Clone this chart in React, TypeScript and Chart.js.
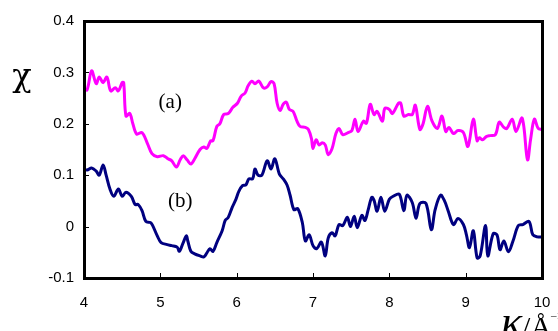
import { useEffect, useRef } from "react";
import { Chart, registerables } from "chart.js";

Chart.register(...registerables);

// Series (a): k (Å^-1) and chi
const kA = [4.0, 4.04, 4.1, 4.16, 4.2, 4.25, 4.3, 4.35, 4.41, 4.45, 4.5, 4.52, 4.55, 4.6, 4.64, 4.69, 4.76, 4.83, 4.89, 4.96, 5.04, 5.1, 5.15, 5.21, 5.26, 5.3, 5.35, 5.4, 5.45, 5.52, 5.57, 5.61, 5.66, 5.69, 5.74, 5.78, 5.83, 5.89, 5.95, 6.01, 6.06, 6.11, 6.15, 6.2, 6.24, 6.29, 6.35, 6.4, 6.45, 6.49, 6.53, 6.57, 6.61, 6.65, 6.69, 6.74, 6.79, 6.83, 6.9, 6.94, 6.98, 7.0, 7.04, 7.08, 7.12, 7.16, 7.2, 7.25, 7.3, 7.34, 7.39, 7.46, 7.51, 7.55, 7.59, 7.66, 7.7, 7.75, 7.8, 7.84, 7.91, 7.94, 8.0, 8.04, 8.12, 8.15, 8.19, 8.25, 8.3, 8.34, 8.4, 8.44, 8.5, 8.56, 8.63, 8.69, 8.74, 8.78, 8.84, 8.9, 8.97, 9.03, 9.1, 9.15, 9.18, 9.22, 9.27, 9.32, 9.39, 9.44, 9.5, 9.54, 9.61, 9.66, 9.74, 9.81, 9.85, 9.9, 9.95, 10.0];
const chiA = [0.268, 0.266, 0.303, 0.278, 0.291, 0.28, 0.291, 0.264, 0.27, 0.264, 0.28, 0.28, 0.215, 0.22, 0.2, 0.18, 0.183, 0.162, 0.142, 0.136, 0.138, 0.132, 0.128, 0.116, 0.13, 0.138, 0.13, 0.122, 0.132, 0.15, 0.155, 0.152, 0.167, 0.167, 0.195, 0.2, 0.218, 0.22, 0.232, 0.24, 0.254, 0.26, 0.274, 0.283, 0.278, 0.283, 0.27, 0.272, 0.282, 0.278, 0.24, 0.226, 0.238, 0.242, 0.228, 0.224, 0.205, 0.195, 0.193, 0.189, 0.171, 0.152, 0.169, 0.159, 0.163, 0.159, 0.14, 0.152, 0.181, 0.191, 0.179, 0.183, 0.187, 0.209, 0.185, 0.205, 0.201, 0.238, 0.218, 0.224, 0.205, 0.23, 0.228, 0.22, 0.24, 0.24, 0.215, 0.218, 0.218, 0.236, 0.189, 0.199, 0.234, 0.205, 0.191, 0.215, 0.185, 0.193, 0.181, 0.187, 0.183, 0.156, 0.209, 0.167, 0.173, 0.169, 0.175, 0.177, 0.179, 0.203, 0.193, 0.191, 0.209, 0.185, 0.211, 0.13, 0.169, 0.209, 0.191, 0.189];

// Series (b)
const kB = [4.0, 4.04, 4.1, 4.16, 4.2, 4.25, 4.29, 4.34, 4.39, 4.45, 4.5, 4.55, 4.62, 4.67, 4.71, 4.76, 4.81, 4.87, 4.9, 4.96, 5.01, 5.09, 5.15, 5.22, 5.25, 5.3, 5.34, 5.36, 5.4, 5.45, 5.52, 5.57, 5.61, 5.65, 5.69, 5.74, 5.81, 5.85, 5.89, 5.94, 5.99, 6.03, 6.08, 6.12, 6.16, 6.21, 6.24, 6.28, 6.33, 6.4, 6.45, 6.5, 6.56, 6.61, 6.66, 6.7, 6.75, 6.8, 6.86, 6.9, 6.95, 7.0, 7.05, 7.11, 7.16, 7.2, 7.25, 7.29, 7.34, 7.39, 7.45, 7.49, 7.54, 7.58, 7.64, 7.68, 7.72, 7.77, 7.8, 7.84, 7.89, 7.94, 8.0, 8.05, 8.13, 8.19, 8.23, 8.3, 8.35, 8.4, 8.48, 8.55, 8.6, 8.67, 8.72, 8.77, 8.84, 8.9, 8.97, 9.01, 9.05, 9.1, 9.15, 9.19, 9.26, 9.29, 9.36, 9.41, 9.45, 9.5, 9.56, 9.62, 9.69, 9.75, 9.83, 9.88, 9.94, 10.0];
const chiB = [0.112, 0.11, 0.114, 0.108, 0.1, 0.12, 0.1, 0.073, 0.059, 0.073, 0.059, 0.067, 0.059, 0.043, 0.043, 0.031, 0.01, 0.008, 0.002, -0.018, -0.031, -0.035, -0.037, -0.04, -0.048, -0.031, -0.018, -0.028, -0.048, -0.053, -0.057, -0.059, -0.051, -0.043, -0.048, -0.031, -0.008, 0.012, 0.018, 0.037, 0.053, 0.069, 0.08, 0.081, 0.093, 0.093, 0.112, 0.1, 0.1, 0.128, 0.112, 0.132, 0.102, 0.093, 0.081, 0.061, 0.033, 0.035, 0.008, -0.028, -0.016, -0.037, -0.043, -0.03, -0.057, -0.022, -0.012, -0.018, 0.004, 0.002, 0.018, 0.0, 0.02, -0.002, 0.022, 0.012, 0.031, 0.057, 0.051, 0.03, 0.057, 0.03, 0.053, 0.059, 0.063, 0.031, 0.061, 0.047, 0.016, 0.045, 0.045, -0.006, 0.033, 0.061, 0.051, 0.031, 0.004, 0.016, 0.004, -0.016, -0.041, -0.008, -0.061, -0.057, 0.002, -0.057, -0.014, -0.016, -0.045, -0.028, -0.049, -0.028, 0.002, 0.004, 0.01, -0.016, -0.02, -0.02];

const xTicks = [4, 5, 6, 7, 8, 9, 10];
const yTicks = [-0.1, 0, 0.1, 0.2, 0.3, 0.4];

const labelA = "(a)";
const labelB = "(b)";
const yTitle = "χ";

const framePlugin = {
  id: "frameAndLabels",
  afterDraw(chart: any) {
    const ctx: CanvasRenderingContext2D = chart.ctx;
    const a = chart.chartArea;
    const xs = chart.scales.x;
    const ys = chart.scales.y;
    const L = Math.round(a.left);
    const R = Math.round(a.right);
    const T = Math.round(a.top);
    const B = Math.round(a.bottom);
    ctx.save();
    ctx.fillStyle = "#000000";
    // frame (filled bars, 3px)
    ctx.fillRect(L - 1, T - 1, R - L + 3, 3);
    ctx.fillRect(L - 1, B - 1, R - L + 3, 3);
    ctx.fillRect(L - 1, T - 1, 3, B - T + 3);
    ctx.fillRect(R - 1, T - 1, 3, B - T + 3);
    // inward tick marks
    xTicks.forEach((v) => {
      const px = Math.round(xs.getPixelForValue(v));
      ctx.fillRect(px, B - 5, 1, 5);
    });
    yTicks.forEach((v) => {
      const py = Math.round(ys.getPixelForValue(v));
      ctx.fillRect(L, py, 5, 1);
    });

    ctx.font = '21px "Liberation Serif", serif';
    ctx.textAlign = "center";
    ctx.textBaseline = "middle";
    ctx.fillText(labelA, xs.getPixelForValue(5.13), ys.getPixelForValue(0.242));
    ctx.fillText(labelB, xs.getPixelForValue(5.26), ys.getPixelForValue(0.049));

    ctx.font = '32px "DejaVu Serif", serif';
    ctx.fillText(yTitle, 22, 78);

    // x-axis title, partly cut off at the bottom right
    ctx.textAlign = "left";
    ctx.textBaseline = "alphabetic";
    ctx.font = 'italic 44px "Liberation Serif", serif';
    ctx.fillText("κ", 501, 336);
    ctx.font = '30px "Liberation Serif", serif';
    ctx.fillText("/Å", 522, 337);
    ctx.font = '11px "Liberation Serif", serif';
    ctx.fillText("–1", 551, 319);
    ctx.restore();
  },
};

export default function App() {
  const ref = useRef<HTMLCanvasElement | null>(null);
  useEffect(() => {
    if (!ref.current) return;
    const chart = new Chart(ref.current, {
      type: "line",
      data: {
        datasets: [
          {
            label: labelA,
            data: kA.map((k, i) => ({ x: k, y: chiA[i] })),
            borderColor: "#FF00FF",
            borderWidth: 3,
            pointRadius: 0,
            tension: 0.35,
            fill: false,
          },
          {
            label: labelB,
            data: kB.map((k, i) => ({ x: k, y: chiB[i] })),
            borderColor: "#000080",
            borderWidth: 3,
            pointRadius: 0,
            tension: 0.35,
            fill: false,
          },
        ],
      },
      options: {
        animation: false,
        responsive: false,
        maintainAspectRatio: false,
        layout: { padding: { left: 0, right: 16, top: 21, bottom: 0 } },
        plugins: { legend: { display: false }, tooltip: { enabled: false } },
        scales: {
          x: {
            type: "linear",
            min: 4,
            max: 10,
            afterBuildTicks: (s: any) => {
              s.ticks = xTicks.map((v) => ({ value: v }));
            },
            afterFit: (s: any) => {
              s.height = 53;
              s.paddingLeft = 0;
              s.paddingRight = 0;
            },
            grid: { display: false, drawTicks: false },
            border: { display: false },
            ticks: {
              color: "#000",
              padding: 16,
              font: { family: '"Liberation Sans", Arial, sans-serif', size: 15 },
              callback: (v: any) => String(v),
            },
          },
          y: {
            type: "linear",
            min: -0.1,
            max: 0.4,
            afterBuildTicks: (s: any) => {
              s.ticks = yTicks.map((v) => ({ value: v }));
            },
            afterFit: (s: any) => {
              s.width = 84;
            },
            grid: { display: false, drawTicks: false },
            border: { display: false },
            ticks: {
              color: "#000",
              padding: 10,
              font: { family: '"Liberation Sans", Arial, sans-serif', size: 15 },
              callback: (v: any) => String(Number(Number(v).toFixed(1))),
            },
          },
        },
      },
      plugins: [framePlugin],
    });
    return () => chart.destroy();
  }, []);
  return (
    <div style={{ position: "fixed", left: 0, top: 0, width: 558, height: 331, background: "#fff" }}>
      <canvas ref={ref} width={558} height={331} style={{ width: 558, height: 331, display: "block" }} />
    </div>
  );
}
